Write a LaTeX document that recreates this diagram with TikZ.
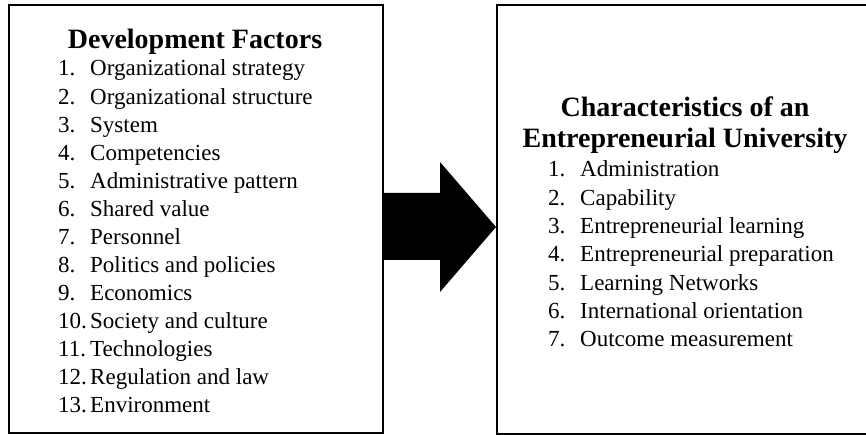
\documentclass[tikz,border=0pt]{standalone}
\usepackage{fontspec}
\setmainfont{Liberation Serif}
\begin{document}
\begin{tikzpicture}[x=1pt,y=-1pt,
  panel/.style={draw=black, line width=2pt, fill=white, inner sep=0pt},
  heading/.style={font=\fontsize{28}{31}\selectfont\bfseries, inner sep=0pt, anchor=base},
  entry/.style={font=\fontsize{23}{28}\selectfont, inner sep=0pt, anchor=base west},
  bigarrow/.style={fill=black, draw=none},
]
\useasboundingbox[fill=white] (0,0) rectangle (866,435);

% the two panels
\node[panel, minimum width=374pt, minimum height=428pt] (dev) at (196,219) {};
\node[panel, minimum width=377pt, minimum height=429pt] (chr) at (685.5,219.5) {};

% left panel: development factors
\node[heading] (devtitle) at (195,49) {Development Factors};
\foreach \t [count=\i] in {Organizational strategy, Organizational structure, System,
    Competencies, Administrative pattern, Shared value, Personnel,
    Politics and policies, Economics, Society and culture, Technologies,
    Regulation and law, Environment} {
  \node[entry] (dn\i) at (58,{76+28.08*(\i-1)}) {\i.};
  \node[entry] (dt\i) at (90,{76+28.08*(\i-1)}) {\t};
}

% right panel: characteristics
\node[heading] (chrtitleA) at (685,117) {Characteristics of an};
\node[heading] (chrtitleB) at (685,148) {Entrepreneurial University};
\foreach \t [count=\i] in {Administration, Capability, Entrepreneurial learning,
    Entrepreneurial preparation, Learning Networks, International orientation,
    Outcome measurement} {
  \node[entry] (cn\i) at (548,{177+28.33*(\i-1)}) {\i.};
  \node[entry] (ct\i) at (580,{177+28.33*(\i-1)}) {\t};
}

% block arrow from the factors to the characteristics
\fill[bigarrow] (dev.east |- 0,193) -- (440,193) -- (440,162)
  -- (chr.west |- 0,227) -- (440,292) -- (440,260)
  -- (dev.east |- 0,260) -- cycle;
\end{tikzpicture}
\end{document}
